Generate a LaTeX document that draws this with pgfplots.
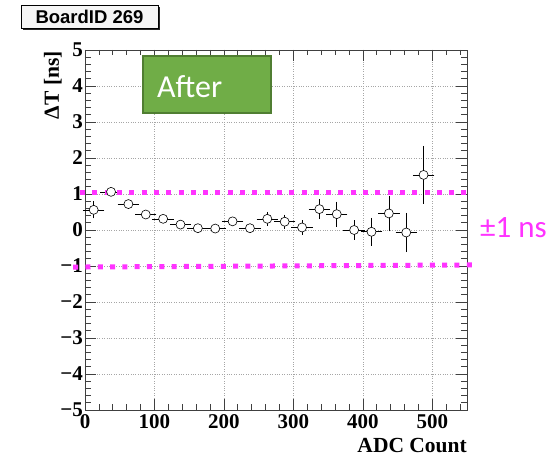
\documentclass[border=0pt]{standalone}
\usepackage{fontspec}
\setmainfont{Liberation Serif}
\newfontfamily\arialf{Liberation Sans}
\newfontfamily\carlito{Carlito}
\usepackage{pgfplots}
\pgfplotsset{compat=1.18}
\usepackage{pgfplotstable}
\definecolor{mag}{RGB}{255,51,255}
\definecolor{agreen}{RGB}{112,173,71}
\definecolor{agreenb}{RGB}{80,126,50}

\pgfplotstableread{
x y ex ey
12.5 0.56 12.5 0.18
37.5 1.06 12.5 0.06
62.5 0.72 12.5 0.06
87.5 0.43 12.5 0.06
112.5 0.31 12.5 0.06
137.5 0.15 12.5 0.06
162.5 0.05 12.5 0.06
187.5 0.04 12.5 0.06
212.5 0.24 12.5 0.07
237.5 0.05 12.5 0.07
262.5 0.31 12.5 0.14
287.5 0.23 12.5 0.14
312.5 0.07 12.5 0.15
337.5 0.58 12.5 0.22
362.5 0.44 12.5 0.29
387.5 0.00 12.5 0.22
412.5 -0.05 12.5 0.33
437.5 0.46 12.5 0.44
462.5 -0.07 12.5 0.49
487.5 1.53 12.5 0.75
}\data

\begin{document}
\begin{tikzpicture}
\begin{axis}[
 scale only axis, width=382pt, height=360pt,
 xmin=0, xmax=550, ymin=-5, ymax=5,
 clip=false,
 axis line style={black!75, line width=0.7pt},
 tick align=inside, tick pos=both,
 xtick={0,100,...,500}, xticklabels={0,100,200,300,400,500},
 minor xtick={20,40,...,540},
 ytick={-5,-4,...,5}, yticklabels={−5,−4,−3,−2,−1,0,1,2,3,4,5},
 minor y tick num=4,
 major tick length=11pt, minor tick length=5.5pt,
 every tick/.style={black!75, line width=0.6pt},
 grid=major, major grid style={gray!70, dotted, line width=0.5pt},
 ticklabel style={font=\fontsize{21}{21}\selectfont\bfseries, inner sep=0pt},
 xticklabel style={yshift=-4pt},
 yticklabel style={xshift=-2pt},
]
\addplot[only marks, mark=*, mark size=4.5pt,
  mark options={fill=white, draw=black, line width=0.6pt},
  error bars/.cd, x dir=both, x explicit, y dir=both, y explicit,
  error bar style={black, line width=0.6pt},
  error mark options={black, mark size=2pt, line width=0.6pt}]
  table[x=x, y=y, x error=ex, y error=ey]{\data};
\addplot[mag, line width=5pt, dash pattern=on 5pt off 7.3pt] coordinates {(-7,1.03) (553,1.03)};
\addplot[mag, line width=5pt, dash pattern=on 5pt off 7.3pt] coordinates {(-17,-1.03) (563,-0.97)};
\end{axis}
\begin{scope}[shift={(current axis.south west)}, x=1pt, y=1pt]
  % BoardID box
  \fill[black!85] (-62,380) rectangle (75,403);
  \filldraw[fill=gray!8, draw=black, line width=0.6pt] (-64,382) rectangle (73,405);
  \node[font=\arialf\bfseries\fontsize{18.5}{19}\selectfont, inner sep=0pt] at (4.5,393.5) {BoardID 269};
  % After box
  \filldraw[fill=agreen, draw=agreenb, line width=1.5pt] (58,297) rectangle (186,354);
  \node[font=\carlito\fontsize{32}{32}\selectfont, text=white, inner sep=0pt, anchor=base west] at (72,312) {After};
  % +-1 ns
  \node[font=\carlito\fontsize{31}{31}\selectfont, text=mag, inner sep=0pt, anchor=base west] at (395,172) {±1 ns};
  % labels
  \node[font=\fontsize{21.5}{22}\selectfont\bfseries, rotate=90, inner sep=0pt, anchor=base east] at (-26,359) {ΔT [ns]};
  \node[font=\fontsize{21.5}{22}\selectfont\bfseries, inner sep=0pt, anchor=base east] at (382,-43) {ADC Count};
  \pgfresetboundingbox
  \path[use as bounding box] (-85,-47) rectangle (473,410);
\end{scope}
\end{tikzpicture}
\end{document}
